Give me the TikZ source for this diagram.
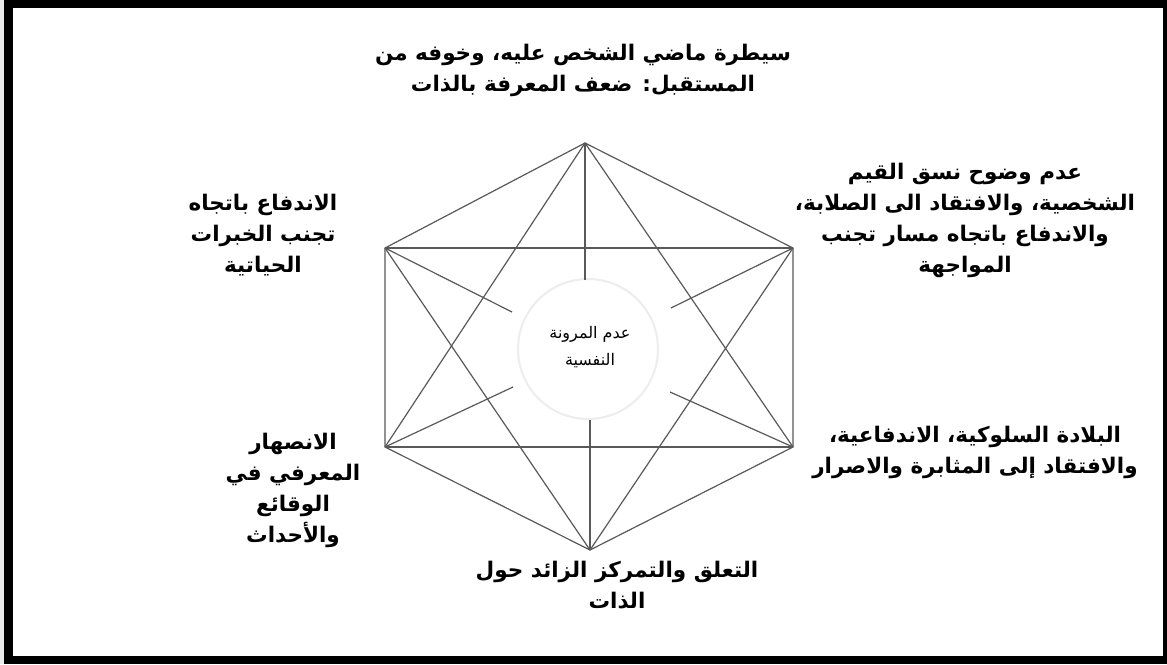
\documentclass[tikz,border=0pt]{standalone}
\usepackage{fontspec}
\TeXXeTstate=1
\newfontfamily\arabicfont[Script=Arabic]{DejaVu Sans}
\newcommand{\artxt}[1]{\beginR #1\endR}
\tikzset{
  edge/.style={draw=black!65, line width=1.2pt},
  lbl/.style={align=center, font=\arabicfont\bfseries\fontsize{21.5}{31}\selectfont, inner sep=0pt},
  smalllbl/.style={align=center, font=\arabicfont\fontsize{16}{27}\selectfont, inner sep=0pt}
}
\begin{document}
\begin{tikzpicture}[x=1pt,y=-1pt]
\useasboundingbox (0,0) rectangle (1167,664);
% frame
\fill[black!8] (0,0) rectangle (1167,664);
\fill[black] (4,0) rectangle (1167,664);
\fill[white] (13,8) rectangle (1163,656);
% vertices
\coordinate (T) at (585,143);
\coordinate (UR) at (793,248);
\coordinate (LR) at (793,447);
\coordinate (B) at (590,550);
\coordinate (LL) at (385,447);
\coordinate (UL) at (385,248);
% spoke ends
\coordinate (sT) at (585,280);
\coordinate (sB) at (590,420);
\coordinate (sUL) at (512,312);
\coordinate (sUR) at (671,308);
\coordinate (sLL) at (513,387);
\coordinate (sLR) at (670,392);
% faint circle
\draw[black!7, line width=2pt] (588,349) circle (70);
% hexagon
\draw[edge] (T) -- (UR) -- (LR) -- (B) -- (LL) -- (UL) -- cycle;
\draw[edge] (UL) -- (UR);
\draw[edge] (LL) -- (LR);
\draw[edge] (T) -- (LL);
\draw[edge] (T) -- (LR);
\draw[edge] (B) -- (UL);
\draw[edge] (B) -- (UR);
% spokes
\draw[edge] (T) -- (sT);
\draw[edge] (B) -- (sB);
\draw[edge] (UL) -- (sUL);
\draw[edge] (UR) -- (sUR);
\draw[edge] (LL) -- (sLL);
\draw[edge] (LR) -- (sLR);
% labels
\node[lbl] (top) at (583,70) {\artxt{سيطرة ماضي الشخص عليه، وخوفه من}\\\artxt{المستقبل: ضعف المعرفة بالذات}};
\node[lbl] (ur) at (965,220) {\artxt{عدم وضوح نسق القيم}\\\artxt{الشخصية، والافتقاد الى الصلابة،}\\\artxt{والاندفاع باتجاه مسار تجنب}\\\artxt{المواجهة}};
\node[lbl] (ul) at (263,235) {\artxt{الاندفاع باتجاه}\\\artxt{تجنب الخبرات}\\\artxt{الحياتية}};
\node[lbl] (lr) at (975,452) {\artxt{البلادة السلوكية، الاندفاعية،}\\\artxt{والافتقاد إلى المثابرة والاصرار}};
\node[lbl] (ll) at (293,490) {\artxt{الانصهار}\\\artxt{المعرفي في}\\\artxt{الوقائع}\\\artxt{والأحداث}};
\node[lbl] (bot) at (617,585) {\artxt{التعلق والتمركز الزائد حول}\\\artxt{الذات}};
\node[smalllbl] (ctr) at (590,347) {\artxt{عدم المرونة}\\\artxt{النفسية}};
\end{tikzpicture}
\end{document}
